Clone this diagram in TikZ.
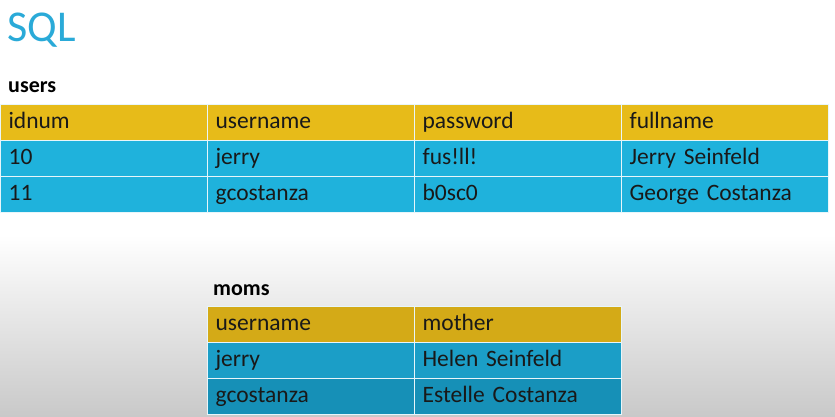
\documentclass[tikz,border=0pt]{standalone}
\usepackage{fontspec}
\setmainfont{Carlito}
\definecolor{titleBlue}{HTML}{2AAAD8}
\definecolor{headGold}{HTML}{E7BB19}
\definecolor{bodyBlue}{HTML}{1FB2DC}
\definecolor{momGold}{HTML}{D4AA17}
\definecolor{momBlueA}{HTML}{1B9EC7}
\definecolor{momBlueB}{HTML}{1690B7}
\definecolor{cellLine}{HTML}{E8F6FA}
\definecolor{slideGray}{HTML}{C9C9C9}

\begin{document}
\begin{tikzpicture}
[x=1pt,y=-1pt,
  cellDecorate/.style={shape=rectangle,anchor=north west,inner sep=0pt,
    minimum width=207pt,minimum height=36pt,text width=191pt,align=left,
    text height=16pt,text depth=4pt,text=black!90,
    font=\fontsize{23.5}{26}\selectfont,draw=cellLine,line width=1.2pt},%
  labelDecorate/.style={anchor=base west,inner sep=0pt,
    font=\fontsize{22}{25}\selectfont\bfseries}]
%% slide background
\useasboundingbox (0,0) rectangle (835,416);
\fill[white] (0,0) rectangle (835,416);
\shade[top color=white,bottom color=slideGray] (0,235) rectangle (835,416);
%% title and table names
\node (title) at (7,41) [anchor=base west,inner sep=0pt,text=titleBlue,
  font=\fontsize{44}{50}\selectfont] {SQL};
\node (usersname) at (8,92) [labelDecorate] {users};
\node (momsname) at (213,295) [labelDecorate] {moms};
%% users table
\foreach \row/\y/\cellcolor/\cells in {
  0/104/headGold/{idnum,username,password,fullname},
  1/140/bodyBlue/{10,jerry,fus!ll!,Jerry Seinfeld},
  2/176/bodyBlue/{11,gcostanza,b0sc0,George Costanza}}
{
  \foreach \txt [count=\col from 0] in \cells
  {
    \node (u-\row-\col) at (\col*207,\y) [cellDecorate,fill=\cellcolor] {\txt};
  }
}
%% moms table
\foreach \row/\y/\cellcolor/\cells in {
  0/306/momGold/{username,mother},
  1/342/momBlueA/{jerry,Helen Seinfeld},
  2/378/momBlueB/{gcostanza,Estelle Costanza}}
{
  \foreach \txt [count=\col from 1] in \cells
  {
    \node (m-\row-\col) at (\col*207,\y) [cellDecorate,fill=\cellcolor] {\txt};
  }
}
\end{tikzpicture}
\end{document}
